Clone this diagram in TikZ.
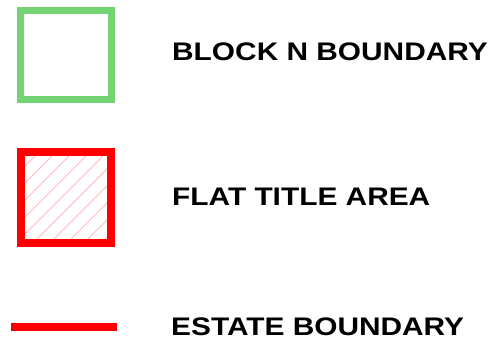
\documentclass[tikz,border=0pt]{standalone}
\usepackage{fontspec}
\setmainfont{Liberation Sans}
\usetikzlibrary{positioning}

\definecolor{blockgreen}{RGB}{115,212,115}
\definecolor{titlered}{RGB}{255,0,0}
\definecolor{hatchpink}{RGB}{255,185,195}

% labels in the key are drawn a little wider than the font
\newcommand{\keylabel}[1]{\scalebox{1.175}[1]{#1}}

\begin{document}
\begin{tikzpicture}[
  x=1pt, y=-1pt,
  green box/.style  = {draw=blockgreen, line width=7pt, minimum width=91pt,
                       minimum height=89pt, inner sep=0pt},
  red box/.style    = {draw=titlered, line width=8pt, minimum width=90pt,
                       minimum height=91pt, inner sep=0pt},
  estate line/.style = {draw=titlered, line width=8.5pt, line cap=butt},
  hatch/.style      = {draw=hatchpink, line width=1pt},
  key text/.style   = {anchor=base west, inner sep=0pt,
                       font=\bfseries\fontsize{25.4}{30}\selectfont},
]

% ── Page frame ─────────────────────────────────────────────────────────────
\useasboundingbox (0,0) rectangle (496,343);

% ── Legend symbols ─────────────────────────────────────────────────────────
\def\symX{66}

% Block N boundary: green outline only
\node[green box] (blocksym) at (\symX, 55) {};

% Flat title area: pink hatching clipped to the box, then the red outline
\begin{scope}
  \clip (21,152) rectangle (111,243);
  \foreach \k in {-120,-103,...,120} {
    \draw[hatch] (\k, 243) -- (\k+91, 152);
  }
\end{scope}
\node[red box] (flatsym) at (\symX, 197.5) {};

% Estate boundary: short thick red line
\coordinate (estA) at (11, 327);
\coordinate (estB) at (117, 327);
\draw[estate line] (estA) -- (estB);

% ── Legend labels ──────────────────────────────────────────────────────────
\def\txtX{172}

\node[key text] (blocklbl)  at (\txtX, 60)  {\keylabel{BLOCK N BOUNDARY}};
\node[key text] (flatlbl)   at (\txtX, 205) {\keylabel{FLAT TITLE AREA}};
\node[key text] (estatelbl) at (\txtX-1, 335) {\keylabel{ESTATE BOUNDARY}};

\end{tikzpicture}
\end{document}
